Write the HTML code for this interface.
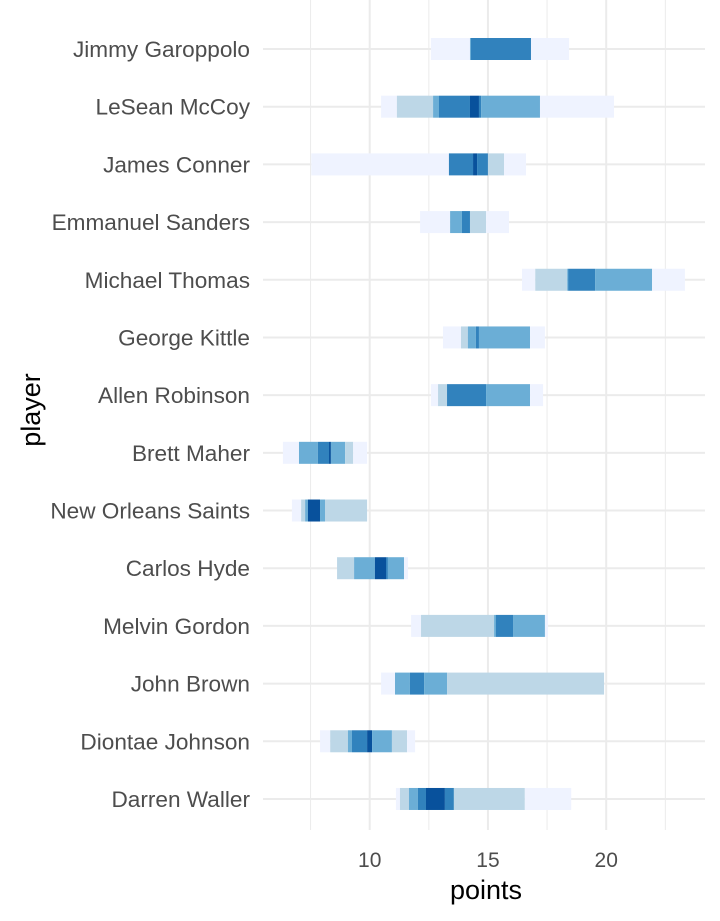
<!DOCTYPE html>
<html><head><meta charset="utf-8"><style>
body{margin:0;background:#fff;}
svg{display:block;font-family:"Liberation Sans",Arial,sans-serif;}
</style></head><body>
<svg id="chart" width="720" height="921" viewBox="0 0 720 921">
<g id="grid"></g>
<g id="marks"></g>
<g id="ylabels"></g>
<g id="xlabels"></g>
<text x="486" y="899" font-size="27" text-anchor="middle" fill="#000">points</text>
<text transform="translate(40,410) rotate(-90)" font-size="27" text-anchor="middle" fill="#000">player</text>
</svg>
<script>
const players = ["Jimmy Garoppolo","LeSean McCoy","James Conner","Emmanuel Sanders","Michael Thomas","George Kittle","Allen Robinson","Brett Maher","New Orleans Saints","Carlos Hyde","Melvin Gordon","John Brown","Diontae Johnson","Darren Waller"];
// boundaries for each player's stacked intervals
const breaks = [
 [12.59,14.24,14.28,16.82,18.43],
 [10.48,11.15,12.68,12.93,14.24,14.62,14.71,17.2,20.33],
 [7.53,13.35,14.37,14.54,15.0,15.68,16.61],
 [12.13,13.40,13.9,14.24,14.92,15.89],
 [16.44,17.0,18.35,18.39,19.53,21.94,23.33],
 [13.1,13.86,14.15,14.49,14.62,16.78,17.41],
 [12.59,12.89,13.27,14.92,16.78,17.33],
 [6.33,7.01,7.81,8.28,8.36,8.96,9.3,9.89],
 [6.71,7.1,7.27,7.39,7.9,8.11,9.89],
 [8.62,9.34,10.22,10.69,10.77,11.45,11.62],
 [11.75,12.17,15.26,15.34,16.06,17.41,17.54],
 [10.48,11.07,11.7,12.3,13.27,19.91],
 [7.9,8.33,9.08,9.25,9.89,10.1,10.94,11.58,11.92],
 [11.11,11.28,11.66,12.04,12.38,13.18,13.56,16.56,18.52]
];
const levels = [
 [0,2,3,0],
 [0,1,2,3,4,3,2,0],
 [0,3,4,3,1,0],
 [0,2,3,1,0],
 [0,1,2,3,2,0],
 [0,1,2,3,2,0],
 [0,1,3,2,0],
 [0,2,3,4,2,1,0],
 [0,1,2,4,2,1],
 [1,2,4,3,2,0],
 [0,1,2,3,2,0],
 [0,2,3,2,1],
 [0,1,2,3,4,2,1,0],
 [0,1,2,3,4,3,1,0]
];
const xTicks = [10,15,20];
const xMinor = [7.5,12.5,17.5,22.5];
const palette = ["#eff3ff","#bdd7e7","#6baed6","#3182bd","#08519c"];
const NS="http://www.w3.org/2000/svg";
const x = v => 369.7 + (v-10)*23.65;
const y = i => 49 + i*57.69;
function mk(tag, attrs, parent){const e=document.createElementNS(NS,tag);for(const k in attrs)e.setAttribute(k,attrs[k]);parent.appendChild(e);return e;}
const grid=document.getElementById('grid'),marks=document.getElementById('marks'),yl=document.getElementById('ylabels'),xl=document.getElementById('xlabels');
xMinor.forEach(t=>{const l=mk('line',{x1:x(t),x2:x(t),y1:0,y2:830,stroke:'#ebebeb','stroke-width':1},grid);

});
xTicks.forEach(t=>{const l=mk('line',{x1:x(t),x2:x(t),y1:0,y2:830,stroke:'#ebebeb','stroke-width':2},grid);


const tx=mk('text',{x:x(t),y:867,'font-size':21,'text-anchor':'middle',fill:'#4d4d4d'},xl);tx.textContent=t;

});
players.forEach((p,i)=>{
 const l=mk('line',{x1:263,x2:705,y1:y(i),y2:y(i),stroke:'#ebebeb','stroke-width':2},grid);
 
 
 const t=mk('text',{x:250,y:y(i)+8,'font-size':22.6,'text-anchor':'end',fill:'#4d4d4d'},yl);t.textContent=p;
 
 
 const b=breaks[i];
 for(let j=0;j<b.length-1;j++){
  const r=mk('rect',{x:x(b[j]),y:y(i)-11,width:x(b[j+1])-x(b[j]),height:22,fill:palette[levels[i][j]]},marks);
  
  
 }
});
</script>
</body></html>
